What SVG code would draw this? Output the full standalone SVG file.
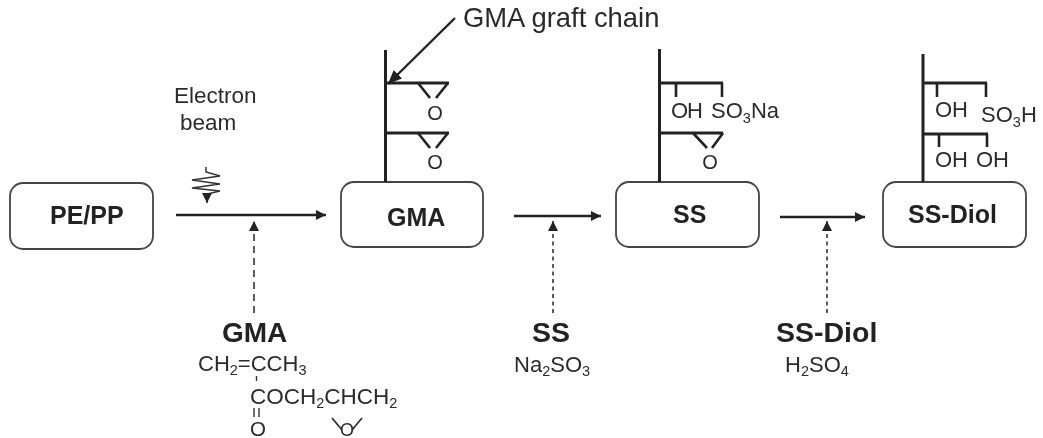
<svg xmlns="http://www.w3.org/2000/svg" width="1043" height="438" viewBox="0 0 1043 438">
<style>
text{font-family:"Liberation Sans",Arial,sans-serif;fill:#2b2b2b}
.b{font-weight:bold;fill:#222}
.box{fill:#fff;stroke:#444;stroke-width:1.8}
.l{fill:none;stroke:#222;stroke-width:3}
.t{fill:none;stroke:#222;stroke-width:2.6}
.a{fill:none;stroke:#222;stroke-width:2.4}
.d{fill:none;stroke:#333;stroke-width:1.600;stroke-dasharray:7 5}
.d2{fill:none;stroke:#333;stroke-width:1.600;stroke-dasharray:4 3.500}
.n{font-size:25px}
.c{font-size:22px}
.o{font-size:20px}
.h{font-size:28.500px}
.s{font-size:14.500px}
</style>
<defs>
<marker id="ah" markerUnits="userSpaceOnUse" markerWidth="11" markerHeight="10" refX="10" refY="5" orient="auto"><path d="M0 0L10 5L0 10z" fill="#222"/></marker>
<marker id="ah2" markerUnits="userSpaceOnUse" markerWidth="15" markerHeight="12" refX="14" refY="6" orient="auto"><path d="M0 0L14 6L0 12z" fill="#222"/></marker>
<filter id="soft" filterUnits="userSpaceOnUse" x="0" y="0" width="1043" height="438"><feGaussianBlur stdDeviation="0.450"/></filter>
</defs>
<rect width="1043" height="438" fill="#fff"/>
<g filter="url(#soft)">
<g id="connectors">
<path class="a" marker-end="url(#ah)" d="M176 215H326"/>
<path class="a" marker-end="url(#ah)" d="M514 216H601"/>
<path class="a" marker-end="url(#ah)" d="M780 217H865"/>
<path class="d" marker-end="url(#ah)" d="M254 313V221"/>
<path class="d2" marker-end="url(#ah)" d="M553 313V221"/>
<path class="d2" marker-end="url(#ah)" d="M827 313V221"/>
<path class="a" marker-end="url(#ah2)" d="M455 18L388 84"/>
<path d="M206 167V172L220 176L192 180L220 184L192 188L220 191L207 194V203" fill="none" stroke="#333" stroke-width="1.500" marker-end="url(#ah)"/>
</g>
<g id="node-pepp"><rect class="box" x="10" y="183" width="143" height="66" rx="13"/><text class="b n" x="50" y="224">PE/PP</text></g>
<g id="node-gma"><rect class="box" x="341" y="182" width="142" height="65" rx="13"/><text class="b n" x="387" y="226">GMA</text>
<path class="l" d="M385.500 50V182M386 83H449M386 133H449"/>
<path class="t" d="M418 83L430 98M448 83L436 98M418 133L430 148M448 133L436 148"/>
<text class="o" x="435" y="120" text-anchor="middle">O</text><text class="o" x="435" y="169" text-anchor="middle">O</text></g>
<g id="node-ss"><rect class="box" x="616" y="182" width="143" height="65" rx="13"/><text class="b n" x="673" y="223">SS</text>
<path class="l" d="M659.500 49V182M660 83H723M660 133H723"/>
<path class="t" d="M676 83V97M722 83V97M693 133L707 148M723 133L712 148"/>
<text class="c" x="671" y="118" textLength="32">OH</text><text class="c" x="711" y="118">SO<tspan class="s" dy="5">3</tspan><tspan dy="-5">Na</tspan></text>
<text class="o" x="710" y="169" text-anchor="middle">O</text></g>
<g id="node-ssdiol"><rect class="box" x="883" y="182" width="143" height="65" rx="13"/><text class="b n" x="908" y="223">SS-Diol</text>
<path class="l" d="M923 54V182M923 83H987M923 134H988"/>
<path class="t" d="M937 83V97M986 83V97M939 134V147M987 134V147"/>
<text class="c" x="935" y="117" textLength="33">OH</text><text class="c" x="981" y="122">SO<tspan class="s" dy="5">3</tspan><tspan dy="-5">H</tspan></text>
<text class="c" x="935" y="167" textLength="33">OH</text><text class="c" x="976" y="167" textLength="33">OH</text></g>
<g id="labels">
<text x="463" y="27" font-size="27.400px">GMA graft chain</text>
<text x="174" y="103" font-size="22.500px">Electron</text><text x="180" y="130" font-size="22.500px">beam</text>
<text class="b" x="222" y="342" font-size="28px">GMA</text>
<text class="c" x="198" y="371">CH<tspan class="s" dy="4">2</tspan><tspan dy="-4">=CCH</tspan><tspan class="s" dy="4">3</tspan></text>
<path d="M256.500 376V381M254 408V417M259 408V417" stroke="#333" stroke-width="1.400" fill="none"/>
<text x="250" y="404" font-size="22.500px">COCH<tspan class="s" dy="4">2</tspan><tspan dy="-4">CHCH</tspan><tspan class="s" dy="4">2</tspan></text>
<text x="258" y="436" font-size="20.500px" text-anchor="middle">O</text>
<text x="347" y="436" font-size="18px" text-anchor="middle">O</text>
<path d="M332 418L342 430M362 418L352 430" stroke="#333" stroke-width="1.800" fill="none"/>
<text class="b h" x="532" y="342">SS</text>
<text class="c" x="514" y="372">Na<tspan class="s" dy="4">2</tspan><tspan dy="-4">SO</tspan><tspan class="s" dy="4">3</tspan></text>
<text class="b h" x="776" y="342">SS-Diol</text>
<text class="c" x="785" y="372">H<tspan class="s" dy="4">2</tspan><tspan dy="-4">SO</tspan><tspan class="s" dy="4">4</tspan></text>
</g>
</g>
</svg>
